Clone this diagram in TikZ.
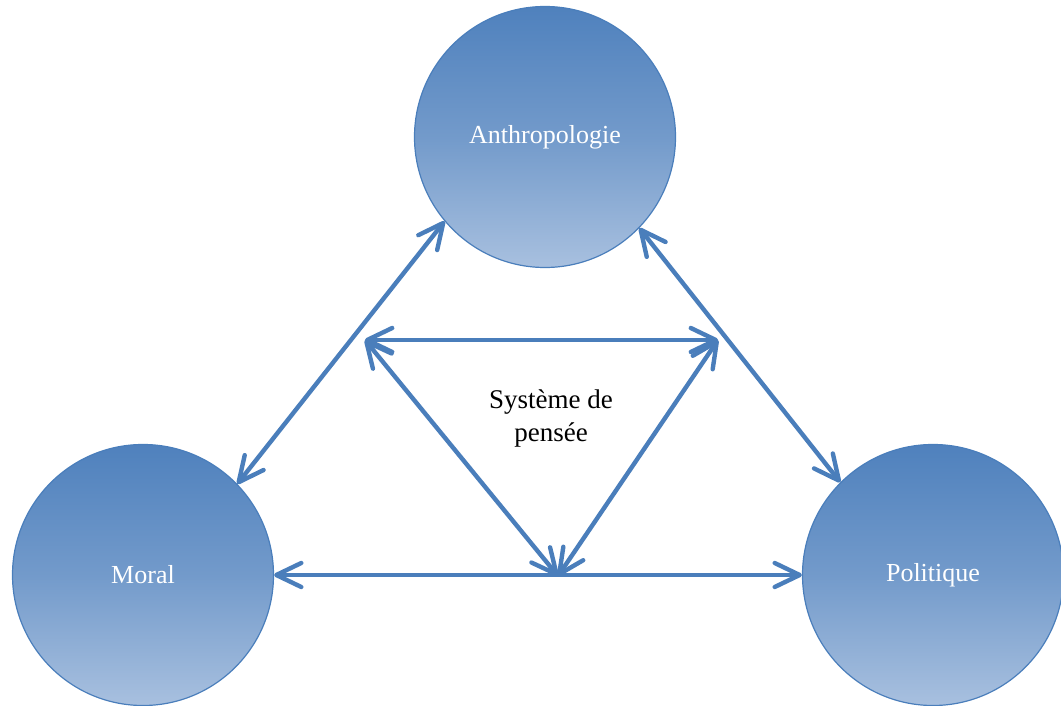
\documentclass[tikz,border=0pt]{standalone}
\usepackage{fontspec}
\setmainfont{Liberation Serif}
\usepackage{tikz}
\usetikzlibrary{arrows.meta}

\definecolor{topblue}{RGB}{79,129,189}
\definecolor{lowblue}{RGB}{168,192,223}
\definecolor{edgeblue}{RGB}{74,126,187}

\begin{document}
\begin{tikzpicture}[x=1pt, y=-1pt,
  topic/.style = {circle, draw=edgeblue, line width=1.2pt, minimum size=261pt, inner sep=0pt,
    top color=topblue, bottom color=lowblue, middle color=topblue!60!lowblue,
    text=white, font=\fontsize{26}{31}\selectfont},
  link/.style = {draw=edgeblue, line width=4.4pt, line cap=round,
    {Straight Barb[length=25pt, width=24pt, round, line width=4.4pt]}-{Straight Barb[length=25pt, width=24pt, round, line width=4.4pt]}}]
\useasboundingbox (0,0) rectangle (1061,706);
\node[topic] (anth) at (545,137) {Anthropologie};
\node[topic] (moral) at (143,575) {Moral};
\node[topic] (pol) at (933,575) {Politique};
\node[align=center, font=\fontsize{27}{33}\selectfont] (sys) at (551,418) {Système de\\pensée};
\coordinate (tl) at (365,340);
\coordinate (tr) at (718,340);
\coordinate (bt) at (558,576);
% outer triangle
\draw[link] (anth.220.7) -- (moral.44.4);
\draw[link] (anth.316) -- (pol.135);
\draw[link] (moral.east) -- (pol.west);
% inner triangle
\draw[link] (tl) -- (tr);
\draw[link] (tl) -- (bt);
\draw[link] (tr) -- (bt);
\end{tikzpicture}
\end{document}
